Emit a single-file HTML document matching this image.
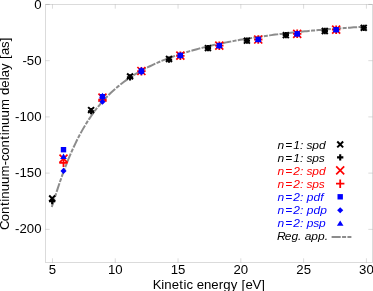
<!DOCTYPE html>
<html><head><meta charset="utf-8"><title>Continuum-continuum delay</title>
<style>html,body{margin:0;padding:0;background:#fff;}svg{display:block;will-change:transform;}text{font-family:"Liberation Sans", sans-serif;}</style>
</head><body>
<svg width="373" height="291" viewBox="0 0 373 291">
<rect x="0" y="0" width="373" height="291" fill="#ffffff"/>
<g stroke="#000" stroke-opacity="0.14" stroke-width="1" fill="none">
<rect x="45.5" y="4.5" width="327.0" height="258.0"/>
<path d="M52.46,262.5 v-4.2 M52.46,4.5 v4.2"/>
<path d="M115.25,262.5 v-4.2 M115.25,4.5 v4.2"/>
<path d="M178.04,262.5 v-4.2 M178.04,4.5 v4.2"/>
<path d="M240.83,262.5 v-4.2 M240.83,4.5 v4.2"/>
<path d="M303.62,262.5 v-4.2 M303.62,4.5 v4.2"/>
<path d="M366.41,262.5 v-4.2 M366.41,4.5 v4.2"/>
<path d="M45.5,4.45 h4.2 M372.5,4.45 h-4.2"/>
<path d="M45.5,60.68 h4.2 M372.5,60.68 h-4.2"/>
<path d="M45.5,116.90 h4.2 M372.5,116.90 h-4.2"/>
<path d="M45.5,173.12 h4.2 M372.5,173.12 h-4.2"/>
<path d="M45.5,229.35 h4.2 M372.5,229.35 h-4.2"/>
</g>
<text transform="translate(41.60,9.05) scale(1.100,1)" x="-6.71" y="0" font-size="12.00" fill="#000">0</text>
<text transform="translate(41.60,64.58) scale(1.100,1)" x="-17.40 -13.45 -6.71" y="0" font-size="12.00" fill="#000">-50</text>
<text transform="translate(41.60,120.80) scale(1.100,1)" x="-24.14 -20.20 -13.45 -6.71" y="0" font-size="12.00" fill="#000">-100</text>
<text transform="translate(41.60,177.03) scale(1.100,1)" x="-24.14 -20.20 -13.45 -6.71" y="0" font-size="12.00" fill="#000">-150</text>
<text transform="translate(41.60,233.25) scale(1.100,1)" x="-24.14 -20.20 -13.45 -6.71" y="0" font-size="12.00" fill="#000">-200</text>
<text transform="translate(52.46,273.50) scale(1.100,1)" x="-3.34" y="0" font-size="12.00" fill="#000">5</text>
<text transform="translate(115.25,273.50) scale(1.100,1)" x="-6.71 0.04" y="0" font-size="12.00" fill="#000">10</text>
<text transform="translate(178.04,273.50) scale(1.100,1)" x="-6.71 0.04" y="0" font-size="12.00" fill="#000">15</text>
<text transform="translate(240.83,273.50) scale(1.100,1)" x="-6.71 0.04" y="0" font-size="12.00" fill="#000">20</text>
<text transform="translate(303.62,273.50) scale(1.100,1)" x="-6.71 0.04" y="0" font-size="12.00" fill="#000">25</text>
<text transform="translate(366.41,273.50) scale(1.100,1)" x="-6.71 0.04" y="0" font-size="12.00" fill="#000">30</text>
<text transform="translate(209.40,288.60) scale(1.100,1)" x="-51.42 -43.80 -40.97 -34.35 -27.34 -23.46 -20.74 -14.81 -11.53 -4.91 1.71 8.49 12.69 19.34 25.50 29.25 32.91 39.13 47.16" y="0" font-size="12.00" fill="#000">Kinetic energy [eV]</text>
<text transform="translate(9.00,133.20) rotate(-90) scale(1.100,1)" x="-87.94 -80.00 -73.40 -66.29 -62.41 -59.58 -52.86 -46.14 -39.28 -29.21 -25.38 -19.56 -12.96 -5.85 -1.97 0.86 7.58 14.29 21.16 31.33 34.71 41.34 48.08 50.79 57.51 63.67 67.42 71.07 77.41 83.57" y="0" font-size="12.00" fill="#000">Continuum-continuum delay [as]</text>
<g>
<path d="M51.80,207.03 L53.76,200.76 L55.72,194.61 L57.68,188.60 L59.64,182.77 L61.61,177.13 L63.57,171.71 L65.53,166.49 L67.49,161.49 L69.45,156.70 L71.41,152.12 L73.37,147.74 L75.33,143.56 L77.29,139.56 L79.25,135.75 L81.22,132.10 L83.18,128.62 L85.14,125.30 L87.10,122.13 L89.06,119.09 L91.02,116.19 L92.98,113.41 L94.94,110.75 L96.90,108.21 L98.86,105.77 L100.83,103.43 L102.79,101.19 L104.75,99.04 L106.71,96.97 L108.67,94.99 L110.63,93.08 L112.59,91.24 L114.55,89.48 L116.51,87.77 L118.47,86.13 L120.44,84.55 L122.40,83.03 L124.36,81.55 L126.32,80.13 L128.28,78.76 L130.24,77.43 L132.20,76.14 L134.16,74.90 L136.12,73.70 L138.08,72.53 L140.05,71.40 L142.01,70.30 L143.97,69.24 L145.93,68.21 L147.89,67.21 L149.85,66.24 L151.81,65.29 L153.77,64.37 L155.73,63.48 L157.69,62.61 L159.66,61.77 L161.62,60.95 L163.58,60.14 L165.54,59.36 L167.50,58.60 L169.46,57.86 L171.42,57.14 L173.38,56.44 L175.34,55.75 L177.30,55.08 L179.27,54.42 L181.23,53.78 L183.19,53.16 L185.15,52.55 L187.11,51.95 L189.07,51.37 L191.03,50.80 L192.99,50.25 L194.95,49.70 L196.91,49.17 L198.88,48.65 L200.84,48.14 L202.80,47.64 L204.76,47.15 L206.72,46.67 L208.68,46.20 L210.64,45.74 L212.60,45.29 L214.56,44.85 L216.52,44.42 L218.49,44.00 L220.45,43.58 L222.41,43.17 L224.37,42.77 L226.33,42.38 L228.29,42.00 L230.25,41.62 L232.21,41.25 L234.17,40.89 L236.13,40.53 L238.10,40.18 L240.06,39.84 L242.02,39.50 L243.98,39.17 L245.94,38.85 L247.90,38.53 L249.86,38.22 L251.82,37.91 L253.78,37.61 L255.74,37.31 L257.71,37.02 L259.67,36.73 L261.63,36.45 L263.59,36.18 L265.55,35.90 L267.51,35.64 L269.47,35.37 L271.43,35.12 L273.39,34.86 L275.35,34.61 L277.32,34.37 L279.28,34.13 L281.24,33.89 L283.20,33.66 L285.16,33.43 L287.12,33.20 L289.08,32.98 L291.04,32.76 L293.00,32.55 L294.96,32.33 L296.93,32.13 L298.89,31.92 L300.85,31.72 L302.81,31.52 L304.77,31.33 L306.73,31.14 L308.69,30.95 L310.65,30.77 L312.61,30.58 L314.57,30.40 L316.54,30.23 L318.50,30.05 L320.46,29.88 L322.42,29.72 L324.38,29.55 L326.34,29.39 L328.30,29.23 L330.26,29.07 L332.22,28.92 L334.18,28.76 L336.15,28.61 L338.11,28.47 L340.07,28.32 L342.03,28.18 L343.99,28.04 L345.95,27.90 L347.91,27.76 L349.87,27.63 L351.83,27.50 L353.79,27.37 L355.76,27.24 L357.72,27.11 L359.68,26.99 L361.64,26.87 L363.60,26.75" fill="none" stroke="#8c8c8c" stroke-width="2" stroke-dasharray="9.12 1.36 4 1.37" stroke-dashoffset="0.00"/>
<path d="M49.20,195.55 L55.10,201.45 M49.20,201.45 L55.10,195.55" stroke="#000000" stroke-width="2.00" fill="none"/>
<path d="M88.15,107.15 L94.05,113.05 M88.15,113.05 L94.05,107.15" stroke="#000000" stroke-width="2.00" fill="none"/>
<path d="M127.10,73.45 L133.00,79.35 M127.10,79.35 L133.00,73.45" stroke="#000000" stroke-width="2.00" fill="none"/>
<path d="M166.05,56.05 L171.95,61.95 M166.05,61.95 L171.95,56.05" stroke="#000000" stroke-width="2.00" fill="none"/>
<path d="M205.00,45.15 L210.90,51.05 M205.00,51.05 L210.90,45.15" stroke="#000000" stroke-width="2.00" fill="none"/>
<path d="M243.95,37.75 L249.85,43.65 M243.95,43.65 L249.85,37.75" stroke="#000000" stroke-width="2.00" fill="none"/>
<path d="M282.90,32.20 L288.80,38.10 M282.90,38.10 L288.80,32.20" stroke="#000000" stroke-width="2.00" fill="none"/>
<path d="M321.85,28.05 L327.75,33.95 M321.85,33.95 L327.75,28.05" stroke="#000000" stroke-width="2.00" fill="none"/>
<path d="M360.80,24.85 L366.70,30.75 M360.80,30.75 L366.70,24.85" stroke="#000000" stroke-width="2.00" fill="none"/>
<path d="M49.00,201.20 L55.30,201.20 M52.15,198.05 L52.15,204.35" stroke="#000000" stroke-width="2.10" fill="none"/>
<path d="M87.95,111.20 L94.25,111.20 M91.10,108.05 L91.10,114.35" stroke="#000000" stroke-width="2.10" fill="none"/>
<path d="M126.90,77.40 L133.20,77.40 M130.05,74.25 L130.05,80.55" stroke="#000000" stroke-width="2.10" fill="none"/>
<path d="M165.85,59.60 L172.15,59.60 M169.00,56.45 L169.00,62.75" stroke="#000000" stroke-width="2.10" fill="none"/>
<path d="M204.80,48.10 L211.10,48.10 M207.95,44.95 L207.95,51.25" stroke="#000000" stroke-width="2.10" fill="none"/>
<path d="M243.75,40.70 L250.05,40.70 M246.90,37.55 L246.90,43.85" stroke="#000000" stroke-width="2.10" fill="none"/>
<path d="M282.70,35.15 L289.00,35.15 M285.85,32.00 L285.85,38.30" stroke="#000000" stroke-width="2.10" fill="none"/>
<path d="M321.65,31.00 L327.95,31.00 M324.80,27.85 L324.80,34.15" stroke="#000000" stroke-width="2.10" fill="none"/>
<path d="M360.60,27.80 L366.90,27.80 M363.75,24.65 L363.75,30.95" stroke="#000000" stroke-width="2.10" fill="none"/>
<path d="M59.50,154.60 L67.50,162.60 M59.50,162.60 L67.50,154.60" stroke="#ff0000" stroke-width="1.70" fill="none"/>
<path d="M98.45,93.60 L106.45,101.60 M98.45,101.60 L106.45,93.60" stroke="#ff0000" stroke-width="1.70" fill="none"/>
<path d="M137.40,67.00 L145.40,75.00 M137.40,75.00 L145.40,67.00" stroke="#ff0000" stroke-width="1.70" fill="none"/>
<path d="M176.35,51.70 L184.35,59.70 M176.35,59.70 L184.35,51.70" stroke="#ff0000" stroke-width="1.70" fill="none"/>
<path d="M215.30,41.70 L223.30,49.70 M215.30,49.70 L223.30,41.70" stroke="#ff0000" stroke-width="1.70" fill="none"/>
<path d="M254.25,35.50 L262.25,43.50 M254.25,43.50 L262.25,35.50" stroke="#ff0000" stroke-width="1.70" fill="none"/>
<path d="M293.20,29.80 L301.20,37.80 M293.20,37.80 L301.20,29.80" stroke="#ff0000" stroke-width="1.70" fill="none"/>
<path d="M332.15,25.70 L340.15,33.70 M332.15,33.70 L340.15,25.70" stroke="#ff0000" stroke-width="1.70" fill="none"/>
<path d="M59.30,162.90 L67.70,162.90 M63.50,158.70 L63.50,167.10" stroke="#ff0000" stroke-width="1.80" fill="none"/>
<path d="M98.25,99.60 L106.65,99.60 M102.45,95.40 L102.45,103.80" stroke="#ff0000" stroke-width="1.80" fill="none"/>
<path d="M137.20,71.20 L145.60,71.20 M141.40,67.00 L141.40,75.40" stroke="#ff0000" stroke-width="1.80" fill="none"/>
<path d="M176.15,55.80 L184.55,55.80 M180.35,51.60 L180.35,60.00" stroke="#ff0000" stroke-width="1.80" fill="none"/>
<path d="M215.10,45.70 L223.50,45.70 M219.30,41.50 L219.30,49.90" stroke="#ff0000" stroke-width="1.80" fill="none"/>
<path d="M254.05,39.50 L262.45,39.50 M258.25,35.30 L258.25,43.70" stroke="#ff0000" stroke-width="1.80" fill="none"/>
<path d="M293.00,33.80 L301.40,33.80 M297.20,29.60 L297.20,38.00" stroke="#ff0000" stroke-width="1.80" fill="none"/>
<path d="M331.95,29.70 L340.35,29.70 M336.15,25.50 L336.15,33.90" stroke="#ff0000" stroke-width="1.80" fill="none"/>
<rect x="60.80" y="147.00" width="5.40" height="5.40" fill="#0000ff"/>
<rect x="99.75" y="94.00" width="5.40" height="5.40" fill="#0000ff"/>
<rect x="138.70" y="68.30" width="5.40" height="5.40" fill="#0000ff"/>
<rect x="177.65" y="52.70" width="5.40" height="5.40" fill="#0000ff"/>
<rect x="216.60" y="42.90" width="5.40" height="5.40" fill="#0000ff"/>
<rect x="255.55" y="36.80" width="5.40" height="5.40" fill="#0000ff"/>
<rect x="294.50" y="31.10" width="5.40" height="5.40" fill="#0000ff"/>
<rect x="333.45" y="27.00" width="5.40" height="5.40" fill="#0000ff"/>
<path d="M63.50,167.85 L66.55,170.90 L63.50,173.95 L60.45,170.90Z" fill="#0000ff"/>
<path d="M102.45,98.75 L105.50,101.80 L102.45,104.85 L99.40,101.80Z" fill="#0000ff"/>
<path d="M141.40,69.25 L144.45,72.30 L141.40,75.35 L138.35,72.30Z" fill="#0000ff"/>
<path d="M180.35,53.05 L183.40,56.10 L180.35,59.15 L177.30,56.10Z" fill="#0000ff"/>
<path d="M219.30,42.85 L222.35,45.90 L219.30,48.95 L216.25,45.90Z" fill="#0000ff"/>
<path d="M258.25,36.45 L261.30,39.50 L258.25,42.55 L255.20,39.50Z" fill="#0000ff"/>
<path d="M297.20,30.75 L300.25,33.80 L297.20,36.85 L294.15,33.80Z" fill="#0000ff"/>
<path d="M336.15,26.65 L339.20,29.70 L336.15,32.75 L333.10,29.70Z" fill="#0000ff"/>
<path d="M63.50,153.60 L66.80,159.00 L60.20,159.00Z" fill="#0000ff"/>
<path d="M102.45,92.80 L105.75,98.20 L99.15,98.20Z" fill="#0000ff"/>
<path d="M141.40,66.80 L144.70,72.20 L138.10,72.20Z" fill="#0000ff"/>
<path d="M180.35,52.30 L183.65,57.70 L177.05,57.70Z" fill="#0000ff"/>
<path d="M219.30,42.60 L222.60,48.00 L216.00,48.00Z" fill="#0000ff"/>
<path d="M258.25,36.50 L261.55,41.90 L254.95,41.90Z" fill="#0000ff"/>
<path d="M297.20,30.80 L300.50,36.20 L293.90,36.20Z" fill="#0000ff"/>
<path d="M336.15,26.70 L339.45,32.10 L332.85,32.10Z" fill="#0000ff"/>
</g>
<text transform="translate(277.60,148.50) scale(1.090,1)" x="0.01 6.98 14.26 20.50 23.67 26.51 31.80 37.94" y="0" font-size="11.00" fill="#000000" font-style="italic">n=1: spd</text>
<text transform="translate(277.60,161.57) scale(1.090,1)" x="0.01 6.98 14.26 20.50 23.67 26.51 31.80 37.70" y="0" font-size="11.00" fill="#000000" font-style="italic">n=1: sps</text>
<text transform="translate(277.60,174.64) scale(1.090,1)" x="0.01 6.98 14.26 20.50 23.67 26.51 31.80 37.94" y="0" font-size="11.00" fill="#ff0000" font-style="italic">n=2: spd</text>
<text transform="translate(277.60,187.71) scale(1.090,1)" x="0.01 6.98 14.26 20.50 23.67 26.51 31.80 37.70" y="0" font-size="11.00" fill="#ff0000" font-style="italic">n=2: sps</text>
<text transform="translate(277.60,200.78) scale(1.090,1)" x="0.01 6.98 14.26 20.50 23.67 26.75 32.90 39.20" y="0" font-size="11.00" fill="#0000ff" font-style="italic">n=2: pdf</text>
<text transform="translate(277.60,213.85) scale(1.090,1)" x="0.01 6.98 14.26 20.50 23.67 26.75 32.90 39.04" y="0" font-size="11.00" fill="#0000ff" font-style="italic">n=2: pdp</text>
<text transform="translate(277.60,226.92) scale(1.090,1)" x="0.01 6.98 14.26 20.50 23.67 26.75 32.66 37.94" y="0" font-size="11.00" fill="#0000ff" font-style="italic">n=2: psp</text>
<text transform="translate(277.60,239.99) scale(1.090,1)" x="-0.61 6.64 12.69 18.83 21.91 24.88 30.92 37.07 43.21" y="0" font-size="11.00" fill="#000000" font-style="italic">Reg. app.</text>
<path d="M337.25,141.45 L343.15,147.35 M337.25,147.35 L343.15,141.45" stroke="#000000" stroke-width="2.00" fill="none"/>
<path d="M337.05,157.40 L343.35,157.40 M340.20,154.25 L340.20,160.55" stroke="#000000" stroke-width="2.10" fill="none"/>
<path d="M336.20,166.30 L344.20,174.30 M336.20,174.30 L344.20,166.30" stroke="#ff0000" stroke-width="1.70" fill="none"/>
<path d="M336.00,183.70 L344.40,183.70 M340.20,179.50 L340.20,187.90" stroke="#ff0000" stroke-width="1.80" fill="none"/>
<rect x="337.50" y="194.10" width="5.40" height="5.40" fill="#0000ff"/>
<path d="M340.20,207.15 L343.25,210.20 L340.20,213.25 L337.15,210.20Z" fill="#0000ff"/>
<path d="M340.20,220.40 L343.50,225.80 L336.90,225.80Z" fill="#0000ff"/>
<path d="M331.6,236.90 H351.4" fill="none" stroke="#8c8c8c" stroke-width="2" stroke-dasharray="9.12 1.36 4 1.37"/>
</svg>
</body></html>
